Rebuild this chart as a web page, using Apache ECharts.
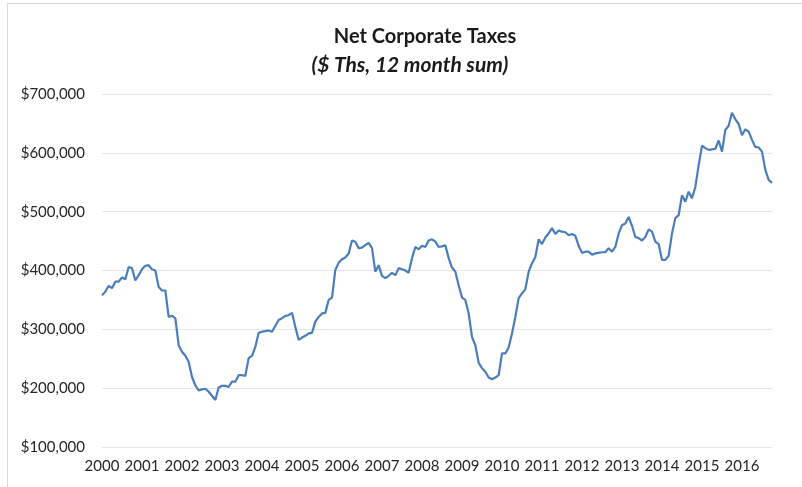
<!DOCTYPE html>
<html>
<head>
<meta charset="utf-8">
<script src="https://cdn.jsdelivr.net/npm/echarts@6/dist/echarts.min.js"></script>
<style>
  html, body { margin: 0; padding: 0; background: #fff; }
  #main { width: 802px; height: 487px; position: relative; }
  #frame { position: absolute; left: 7px; top: 3px; right: 0; bottom: 0;
           border-left: 1px solid #d9d9d9; border-top: 1px solid #d9d9d9; pointer-events: none; }
</style>
</head>
<body>
<div id="main"></div>
<div id="frame"></div>
<script>
// net corporate taxes, $ thousands, 12 month running sum (Jan..Dec per year)
var v2000 = [358000, 364000, 374000, 370000, 381000, 381000, 388000, 385000, 406000, 404000, 383000, 392000];
var v2001 = [402000, 408000, 409000, 402000, 400000, 372000, 366000, 366000, 321000, 323000, 319000, 273000];
var v2002 = [262000, 255000, 245000, 219000, 205000, 196000, 198000, 199000, 194000, 187000, 180000, 201000];
var v2003 = [204000, 204000, 202000, 211000, 211000, 222000, 222000, 221000, 251000, 255000, 270000, 294000];
var v2004 = [296000, 297000, 298000, 296000, 306000, 316000, 319000, 323000, 324000, 328000, 304000, 282000];
var v2005 = [286000, 289000, 293000, 294000, 313000, 321000, 327000, 328000, 350000, 354000, 401000, 413000];
var v2006 = [419000, 422000, 429000, 451000, 449000, 438000, 439000, 443000, 447000, 438000, 398000, 409000];
var v2007 = [391000, 387000, 391000, 396000, 392000, 404000, 402000, 400000, 396000, 421000, 440000, 436000];
var v2008 = [442000, 440000, 451000, 453000, 449000, 440000, 441000, 443000, 421000, 405000, 398000, 375000];
var v2009 = [354000, 350000, 327000, 287000, 273000, 243000, 234000, 228000, 218000, 215000, 218000, 222000];
var v2010 = [259000, 259000, 269000, 293000, 321000, 353000, 361000, 368000, 398000, 412000, 423000, 453000];
var v2011 = [445000, 456000, 463000, 472000, 462000, 468000, 466000, 465000, 460000, 462000, 459000, 442000];
var v2012 = [430000, 432000, 432000, 427000, 429000, 430000, 431000, 431000, 438000, 432000, 440000, 463000];
var v2013 = [477000, 480000, 491000, 476000, 457000, 455000, 451000, 457000, 470000, 466000, 449000, 445000];
var v2014 = [418000, 418000, 425000, 463000, 489000, 494000, 528000, 517000, 534000, 523000, 542000, 579000];
var v2015 = [612000, 608000, 605000, 606000, 607000, 621000, 602000, 639000, 646000, 668000, 657000, 649000];
var v2016 = [630000, 640000, 636000, 622000, 610000, 609000, 602000, 571000, 554000, 549000];

var years = ['2000', '2001', '2002', '2003', '2004', '2005', '2006', '2007', '2008',
             '2009', '2010', '2011', '2012', '2013', '2014', '2015', '2016'];
var yTicks = [100000, 200000, 300000, 400000, 500000, 600000, 700000];

var values = [].concat(v2000, v2001, v2002, v2003, v2004, v2005, v2006, v2007, v2008,
                       v2009, v2010, v2011, v2012, v2013, v2014, v2015, v2016);

// month categories, label shown on each January
var months = [];
for (var i = 0; i < values.length; i++) {
    months.push(years[Math.floor(i / 12)] + '-' + ('0' + (i % 12 + 1)).slice(-2));
}

var myChart = echarts.init(document.getElementById('main'));

var option = {
    backgroundColor: '#fff',
    animation: false,
    title: [
        {
            text: 'Net Corporate Taxes',
            left: 420, top: 22, textAlign: 'center',
            textStyle: { fontFamily: 'Lato', fontSize: 20, fontWeight: 'bold', color: '#1a1a1a' }
        },
        {
            text: '($ Ths, 12 month sum)',
            left: 405, top: 50, textAlign: 'center',
            textStyle: { fontFamily: 'Lato', fontSize: 21, fontWeight: 'bold', fontStyle: 'italic', color: '#1a1a1a' }
        }
    ],
    grid: { left: 102, right: 30, top: 94, bottom: 40 },
    xAxis: {
        type: 'category',
        data: months,
        boundaryGap: false,
        axisLine: { show: false },
        axisTick: { show: false },
        axisLabel: {
            interval: function (idx) { return idx % 12 === 0; },
            formatter: function (val) { return val.slice(0, 4); },
            fontFamily: 'Lato', fontSize: 15, color: '#262626', margin: 12
        }
    },
    yAxis: {
        type: 'value',
        min: yTicks[0],
        max: yTicks[yTicks.length - 1],
        interval: 100000,
        axisLine: { show: false },
        axisTick: { show: false },
        splitLine: { lineStyle: { color: '#e6e6e6', width: 1 } },
        axisLabel: {
            fontFamily: 'Lato', fontSize: 15, color: '#262626', margin: 17,
            formatter: function (v) { return '$' + v.toLocaleString('en-US'); }
        }
    },
    series: [
        {
            name: 'Net Corporate Taxes',
            type: 'line',
            data: values,
            symbol: 'none',
            lineStyle: { color: '#4a7ebb', width: 2.2 }
        }
    ]
};

myChart.setOption(option);
</script>
</body>
</html>
